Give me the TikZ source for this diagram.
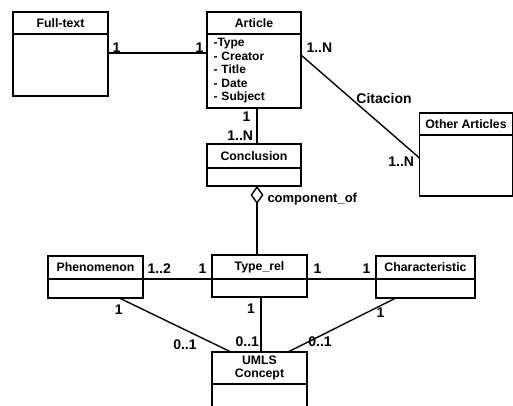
\documentclass[tikz,border=0pt]{standalone}
\usepackage{fontspec}
\setmainfont{Liberation Sans}
\usetikzlibrary{positioning}
\usetikzlibrary{arrows.meta}
\usetikzlibrary{calc}

\newcommand{\clsfont}{\bfseries\fontsize{12.3}{13}\selectfont}
\newcommand{\attrfont}{\bfseries\fontsize{12}{13.5}\selectfont}
\newcommand{\multfont}{\bfseries\fontsize{14}{16}\selectfont}

\begin{document}
\begin{tikzpicture}
[x=1pt,y=-1pt,outer sep=0pt,
  cls/.style={draw,line width=1.6pt,anchor=north,inner sep=2pt,font=\clsfont},
  body/.style={draw,line width=1.6pt,inner sep=0pt,below=0pt of #1},
  link/.style={line width=1.4pt},
  mult/.style={font=\multfont,inner sep=1pt}]
\useasboundingbox (0,0) rectangle (513,405);
\fill[white] (0,0) rectangle (513,405);
\clip (0,0) rectangle (513,405);
%% classes
\node[cls,minimum width=95pt,minimum height=22pt] (full) at (60.5,12) {Full-text};
\node[body=full,minimum width=95pt,minimum height=62pt] (fullb) {};
\node[cls,minimum width=94pt,minimum height=22pt] (art) at (254,12) {Article};
\node[body=art,minimum width=94pt,minimum height=74pt,text width=81pt,
  inner xsep=6.5pt,inner ysep=2pt,align=left,font=\attrfont] (artb)
  {-Type\\- Creator\\- Title\\- Date\\- Subject};
\node[cls,minimum width=93pt,minimum height=22pt] (oth) at (466,113) {Other Articles};
\node[body=oth,minimum width=93pt,minimum height=61pt] (othb) {};
\node[cls,minimum width=94pt,minimum height=24pt] (conc) at (254,144) {Conclusion};
\node[body=conc,minimum width=94pt,minimum height=18pt] (concb) {};
\node[cls,minimum width=95pt,minimum height=24pt] (tr) at (259.5,255) {Type\_rel};
\node[body=tr,minimum width=95pt,minimum height=18pt] (trb) {};
\node[cls,minimum width=95pt,minimum height=23pt] (phen) at (95.5,256) {Phenomenon};
\node[body=phen,minimum width=95pt,minimum height=19pt] (phenb) {};
\node[cls,minimum width=99pt,minimum height=23pt] (char) at (425.5,256) {Characteristic};
\node[body=char,minimum width=99pt,minimum height=19pt] (charb) {};
\node[cls,minimum width=95pt,minimum height=32pt,align=center] (umls) at (259.5,352) {UMLS\\Concept};
\node[body=umls,minimum width=95pt,minimum height=30pt] (umlsb) {};
%% associations
\draw[link] ($(fullb.north east)+(0,19)$) --
  node[mult,at start,anchor=south west,xshift=3.5pt] {1}
  node[mult,at end,anchor=south east,xshift=-2.5pt] {1}
  ($(artb.north west)+(0,19)$);
\draw[link] ($(artb.north east)+(0,21)$) --
  node[mult,at start,anchor=south west,xshift=4.5pt,yshift=2pt] {1..N}
  node[mult,pos=0.42,anchor=west,xshift=4.7pt] {Citacion}
  node[mult,at end,anchor=north east,xshift=-4.5pt,yshift=2pt] {1..N}
  ($(othb.north west)+(0,23)$);
\draw[link] ([xshift=3pt]artb.south) --
  node[mult,at start,anchor=north east,xshift=-5.6pt,yshift=-3pt] {1}
  node[mult,at end,anchor=south east,xshift=-3pt,yshift=3pt] {1..N}
  ([xshift=3pt]conc.north);
\draw[link,{Diamond[open,length=18pt,width=13pt]}-] ([xshift=3pt]concb.south) --
  node[pos=0.19,anchor=west,xshift=9.5pt,inner sep=1pt,
    font=\bfseries\fontsize{13}{15}\selectfont] {component\_of}
  ([xshift=-2.5pt]tr.north);
\draw[link] (phen.south east) --
  node[mult,at start,anchor=south west,xshift=3.5pt,yshift=5pt] {1..2}
  node[mult,at end,anchor=south east,xshift=-4.6pt,yshift=5pt] {1}
  (tr.south west);
\draw[link] (tr.south east) --
  node[mult,at start,anchor=south west,xshift=5.6pt,yshift=5pt] {1}
  node[mult,at end,anchor=south east,xshift=-4.6pt,yshift=5pt] {1}
  (char.south west);
\draw[link] ([xshift=1.5pt]trb.south) --
  node[mult,at start,anchor=north east,xshift=-5.1pt,yshift=-6pt] {1}
  node[mult,at end,anchor=south east,xshift=-1pt,yshift=4pt] {0..1}
  ([xshift=1.5pt]umls.north);
\draw[link] ($(phenb.south west)!0.75!(phenb.south east)$) --
  node[mult,at start,anchor=north east,xshift=4.4pt,yshift=-6pt] {1}
  node[mult,at end,anchor=south east,xshift=-33.4pt,yshift=1pt] {0..1}
  ($(umls.north west)!0.2!(umls.north east)$);
\draw[link] ($(charb.south west)!0.2!(charb.south east)$) --
  node[mult,at start,anchor=north east,xshift=-10.4pt,yshift=-9pt] {1}
  node[mult,at end,anchor=south west,xshift=19.4pt,yshift=4pt] {0..1}
  ($(umls.north west)!0.8!(umls.north east)$);
\end{tikzpicture}
\end{document}
